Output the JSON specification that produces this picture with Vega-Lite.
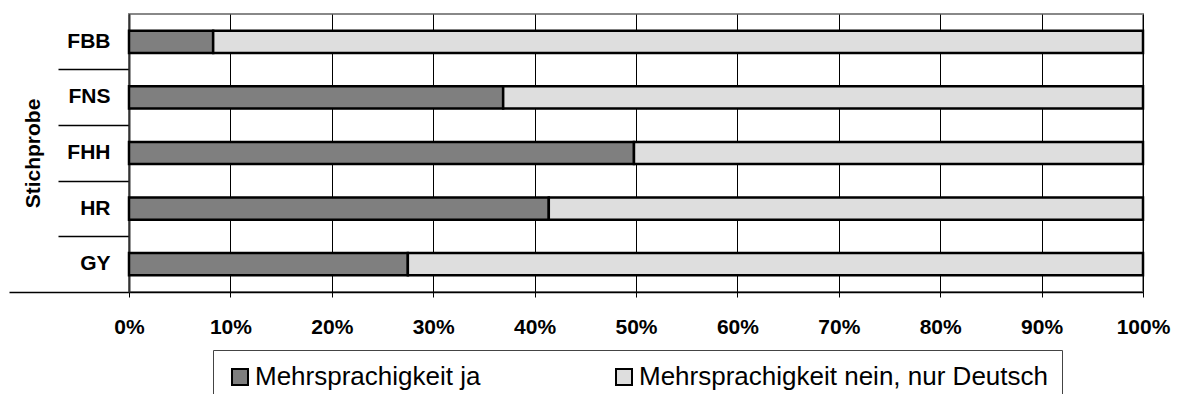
{
  "$schema": "https://vega.github.io/schema/vega-lite/v6.json",
  "width": 1014,
  "height": 278,
  "autosize": {"type": "none"},
  "padding": {"left": 129, "top": 14, "right": 35, "bottom": 102},
  "background": "white",
  "data": {
    "values": [
      {"stichprobe": "FBB", "antwort": "Mehrsprachigkeit ja", "anteil": 8.3},
      {"stichprobe": "FBB", "antwort": "Mehrsprachigkeit nein, nur Deutsch", "anteil": 91.7},
      {"stichprobe": "FNS", "antwort": "Mehrsprachigkeit ja", "anteil": 36.9},
      {"stichprobe": "FNS", "antwort": "Mehrsprachigkeit nein, nur Deutsch", "anteil": 63.1},
      {"stichprobe": "FHH", "antwort": "Mehrsprachigkeit ja", "anteil": 49.8},
      {"stichprobe": "FHH", "antwort": "Mehrsprachigkeit nein, nur Deutsch", "anteil": 50.2},
      {"stichprobe": "HR", "antwort": "Mehrsprachigkeit ja", "anteil": 41.4},
      {"stichprobe": "HR", "antwort": "Mehrsprachigkeit nein, nur Deutsch", "anteil": 58.6},
      {"stichprobe": "GY", "antwort": "Mehrsprachigkeit ja", "anteil": 27.5},
      {"stichprobe": "GY", "antwort": "Mehrsprachigkeit nein, nur Deutsch", "anteil": 72.5}
    ]
  },
  "mark": {"type": "bar", "stroke": "black", "strokeWidth": 2.5},
  "encoding": {
    "y": {
      "field": "stichprobe",
      "type": "nominal",
      "sort": ["FBB", "FNS", "FHH", "HR", "GY"],
      "scale": {"paddingInner": 0.6, "paddingOuter": 0.3},
      "axis": {
        "title": "Stichprobe",
        "titleFont": "Liberation Sans",
        "titleFontWeight": "bold",
        "titleFontSize": 21,
        "titleColor": "black",
        "titleAngle": -90,
        "titleAlign": "center",
        "titleBaseline": "middle",
        "titleX": -96,
        "titleY": 139,
        "labelFont": "Liberation Sans",
        "labelFontWeight": "bold",
        "labelFontSize": 21,
        "labelColor": "black",
        "bandPosition": 1.764,
        "tickSize": {"expr": "datum.value === 'GY' ? 120 : 71"},
        "labelPadding": {"expr": "datum.value === 'GY' ? -101 : -52"},
        "tickColor": "black",
        "tickWidth": 1.5,
        "domainColor": "#333333",
        "domainWidth": 2,
        "grid": false
      }
    },
    "x": {
      "field": "anteil",
      "type": "quantitative",
      "stack": "zero",
      "scale": {"domain": [0, 100], "nice": false},
      "axis": {
        "title": null,
        "values": [0, 10, 20, 30, 40, 50, 60, 70, 80, 90, 100],
        "labelExpr": "datum.value + '%'",
        "labelFont": "Liberation Sans",
        "labelFontWeight": "bold",
        "labelFontSize": 21,
        "labelColor": "black",
        "labelFlush": false,
        "labelOverlap": false,
        "labelPadding": 19,
        "tickSize": 5,
        "tickColor": "black",
        "tickWidth": 1,
        "grid": true,
        "gridColor": "black",
        "gridWidth": 1,
        "gridOpacity": 1,
        "domainColor": "black",
        "domainWidth": 1.5
      }
    },
    "color": {
      "field": "antwort",
      "type": "nominal",
      "scale": {
        "domain": ["Mehrsprachigkeit ja", "Mehrsprachigkeit nein, nur Deutsch"],
        "range": ["#7f7f7f", "#dedede"]
      },
      "legend": {
        "title": null,
        "orient": "none",
        "legendX": 84,
        "legendY": 336,
        "direction": "horizontal",
        "padding": 14,
        "fillColor": "white",
        "strokeColor": "#444444",
        "symbolType": "square",
        "symbolSize": 256,
        "symbolStrokeColor": "black",
        "symbolStrokeWidth": 2,
        "labelOffset": 2,
        "labelFont": "Liberation Sans",
        "labelFontSize": 26,
        "labelColor": "black",
        "labelLimit": 600,
        "columnPadding": 130
      }
    }
  },
  "config": {
    "view": {"stroke": "#888888", "strokeWidth": 2}
  }
}
